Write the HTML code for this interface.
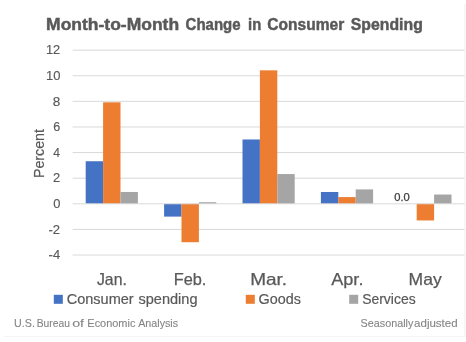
<!DOCTYPE html>
<html><head><meta charset="utf-8"><style>
html,body{margin:0;padding:0;background:#fff;overflow:hidden;}
svg{display:block;will-change:transform;}
text{font-family:"Liberation Sans",sans-serif;}
</style></head><body>
<svg width="466" height="342" viewBox="0 0 466 342">
<rect x="0" y="0" width="466" height="342" fill="#fff"/>
<rect x="72.60" y="49.64" width="392.20" height="1" fill="#d9d9d9"/>
<rect x="72.60" y="75.25" width="392.20" height="1" fill="#d9d9d9"/>
<rect x="72.60" y="100.86" width="392.20" height="1" fill="#d9d9d9"/>
<rect x="72.60" y="126.47" width="392.20" height="1" fill="#d9d9d9"/>
<rect x="72.60" y="152.08" width="392.20" height="1" fill="#d9d9d9"/>
<rect x="72.60" y="177.69" width="392.20" height="1" fill="#d9d9d9"/>
<rect x="72.60" y="228.91" width="392.20" height="1" fill="#d9d9d9"/>
<rect x="72.60" y="254.52" width="392.20" height="1" fill="#d9d9d9"/>
<rect x="85.70" y="161.24" width="17.40" height="42.56" fill="#4472C4"/>
<rect x="103.10" y="102.34" width="17.40" height="101.46" fill="#ED7D31"/>
<rect x="120.50" y="191.98" width="17.40" height="11.82" fill="#A5A5A5"/>
<rect x="164.10" y="203.80" width="17.40" height="12.80" fill="#4472C4"/>
<rect x="181.50" y="203.80" width="17.40" height="38.41" fill="#ED7D31"/>
<rect x="198.90" y="202.22" width="17.40" height="1.58" fill="#A5A5A5"/>
<rect x="242.50" y="139.48" width="17.40" height="64.33" fill="#4472C4"/>
<rect x="259.90" y="70.33" width="17.40" height="133.47" fill="#ED7D31"/>
<rect x="277.30" y="174.05" width="17.40" height="29.75" fill="#A5A5A5"/>
<rect x="320.90" y="191.98" width="17.40" height="11.82" fill="#4472C4"/>
<rect x="338.30" y="197.10" width="17.40" height="6.70" fill="#ED7D31"/>
<rect x="355.70" y="189.41" width="17.40" height="14.39" fill="#A5A5A5"/>
<rect x="416.70" y="203.80" width="17.40" height="16.65" fill="#ED7D31"/>
<rect x="434.10" y="194.54" width="17.40" height="9.26" fill="#A5A5A5"/>
<rect x="72.60" y="203.30" width="392.20" height="1" fill="#d9d9d9"/>
<rect x="53.8" y="294.8" width="9" height="9" fill="#4472C4"/>
<rect x="245.8" y="294.8" width="9" height="9" fill="#ED7D31"/>
<rect x="349.2" y="294.8" width="9" height="9" fill="#A5A5A5"/>
<rect x="4" y="336" width="461" height="1" fill="#f4f4f4"/>
<rect x="464.5" y="4" width="1" height="333" fill="#f0f0f0"/>
<text x="46.10" y="29.70" font-size="16.2" font-weight="bold" fill="#595959" stroke="#595959" stroke-width="0.45" textLength="133.00" lengthAdjust="spacingAndGlyphs">Month-to-Month</text>
<text x="185.57" y="29.70" font-size="16.2" font-weight="bold" fill="#595959" stroke="#595959" stroke-width="0.45" textLength="55.05" lengthAdjust="spacingAndGlyphs">Change</text>
<text x="248.02" y="29.70" font-size="16.2" font-weight="bold" fill="#595959" stroke="#595959" stroke-width="0.45" textLength="13.17" lengthAdjust="spacingAndGlyphs">in</text>
<text x="267.30" y="29.70" font-size="16.2" font-weight="bold" fill="#595959" stroke="#595959" stroke-width="0.45" textLength="76.93" lengthAdjust="spacingAndGlyphs">Consumer</text>
<text x="350.84" y="29.70" font-size="16.2" font-weight="bold" fill="#595959" stroke="#595959" stroke-width="0.45" textLength="72.00" lengthAdjust="spacingAndGlyphs">Spending</text>
<text x="96.96" y="285.10" font-size="16.5" font-weight="normal" fill="#595959" stroke="#595959" stroke-width="0.25" textLength="29.89" lengthAdjust="spacingAndGlyphs">Jan.</text>
<text x="173.71" y="285.10" font-size="16.5" font-weight="normal" fill="#595959" stroke="#595959" stroke-width="0.25" textLength="32.71" lengthAdjust="spacingAndGlyphs">Feb.</text>
<text x="250.18" y="285.10" font-size="16.5" font-weight="normal" fill="#595959" stroke="#595959" stroke-width="0.25" textLength="36.95" lengthAdjust="spacingAndGlyphs">Mar.</text>
<text x="331.23" y="285.10" font-size="16.5" font-weight="normal" fill="#595959" stroke="#595959" stroke-width="0.25" textLength="32.21" lengthAdjust="spacingAndGlyphs">Apr.</text>
<text x="408.64" y="285.10" font-size="16.5" font-weight="normal" fill="#595959" stroke="#595959" stroke-width="0.25" textLength="33.10" lengthAdjust="spacingAndGlyphs">May</text>
<text x="66.75" y="304.00" font-size="14.5" font-weight="normal" fill="#595959" stroke="#595959" stroke-width="0.2" textLength="66.93" lengthAdjust="spacingAndGlyphs">Consumer</text>
<text x="138.50" y="304.00" font-size="14.5" font-weight="normal" fill="#595959" stroke="#595959" stroke-width="0.2" textLength="59.02" lengthAdjust="spacingAndGlyphs">spending</text>
<text x="258.47" y="304.00" font-size="14.5" font-weight="normal" fill="#595959" stroke="#595959" stroke-width="0.2" textLength="42.37" lengthAdjust="spacingAndGlyphs">Goods</text>
<text x="362.17" y="304.00" font-size="14.5" font-weight="normal" fill="#595959" stroke="#595959" stroke-width="0.2" textLength="53.46" lengthAdjust="spacingAndGlyphs">Services</text>
<text x="14.07" y="327.00" font-size="10.5" font-weight="normal" fill="#858585" stroke="#858585" stroke-width="0.1" textLength="20.81" lengthAdjust="spacingAndGlyphs">U.S.</text>
<text x="36.74" y="327.00" font-size="10.5" font-weight="normal" fill="#858585" stroke="#858585" stroke-width="0.1" textLength="33.17" lengthAdjust="spacingAndGlyphs">Bureau</text>
<text x="72.17" y="327.00" font-size="10.5" font-weight="normal" fill="#858585" stroke="#858585" stroke-width="0.1" textLength="11.87" lengthAdjust="spacingAndGlyphs">of</text>
<text x="87.36" y="327.00" font-size="10.5" font-weight="normal" fill="#858585" stroke="#858585" stroke-width="0.1" textLength="48.00" lengthAdjust="spacingAndGlyphs">Economic</text>
<text x="138.16" y="327.00" font-size="10.5" font-weight="normal" fill="#858585" stroke="#858585" stroke-width="0.1" textLength="39.96" lengthAdjust="spacingAndGlyphs">Analysis</text>
<text x="360.58" y="327.00" font-size="10.5" font-weight="normal" fill="#858585" stroke="#858585" stroke-width="0.1" textLength="52.79" lengthAdjust="spacingAndGlyphs">Seasonally</text>
<text x="414.13" y="327.00" font-size="10.5" font-weight="normal" fill="#858585" stroke="#858585" stroke-width="0.1" textLength="43.49" lengthAdjust="spacingAndGlyphs">adjusted</text>
<text x="394.22" y="201.20" font-size="10.4" font-weight="normal" fill="#404040" stroke="#404040" stroke-width="0.25" textLength="15.55" lengthAdjust="spacingAndGlyphs">0.0</text>
<text transform="translate(43.60,178.12) rotate(-90)" font-size="15.0" font-weight="normal" fill="#595959" stroke="#595959" stroke-width="0.2" textLength="49.13" lengthAdjust="spacingAndGlyphs">Percent</text>
<text x="45.97" y="54.00" font-size="13" font-weight="normal" fill="#595959" stroke="#595959" stroke-width="0.15" textLength="14.24" lengthAdjust="spacingAndGlyphs">12</text>
<text x="46.06" y="80.00" font-size="13" font-weight="normal" fill="#595959" stroke="#595959" stroke-width="0.15" textLength="14.45" lengthAdjust="spacingAndGlyphs">10</text>
<text x="52.86" y="106.00" font-size="13" font-weight="normal" fill="#595959" stroke="#595959" stroke-width="0.15" textLength="7.55" lengthAdjust="spacingAndGlyphs">8</text>
<text x="53.17" y="131.00" font-size="13" font-weight="normal" fill="#595959" stroke="#595959" stroke-width="0.15" textLength="6.99" lengthAdjust="spacingAndGlyphs">6</text>
<text x="53.25" y="157.00" font-size="13" font-weight="normal" fill="#595959" stroke="#595959" stroke-width="0.15" textLength="6.73" lengthAdjust="spacingAndGlyphs">4</text>
<text x="53.07" y="182.00" font-size="13" font-weight="normal" fill="#595959" stroke="#595959" stroke-width="0.15" textLength="7.22" lengthAdjust="spacingAndGlyphs">2</text>
<text x="53.15" y="208.00" font-size="13" font-weight="normal" fill="#595959" stroke="#595959" stroke-width="0.15" textLength="7.18" lengthAdjust="spacingAndGlyphs">0</text>
<text x="48.51" y="234.00" font-size="13" font-weight="normal" fill="#595959" stroke="#595959" stroke-width="0.15" textLength="11.65" lengthAdjust="spacingAndGlyphs">-2</text>
<text x="48.59" y="259.00" font-size="13" font-weight="normal" fill="#595959" stroke="#595959" stroke-width="0.15" textLength="11.54" lengthAdjust="spacingAndGlyphs">-4</text>
</svg>
</body></html>
